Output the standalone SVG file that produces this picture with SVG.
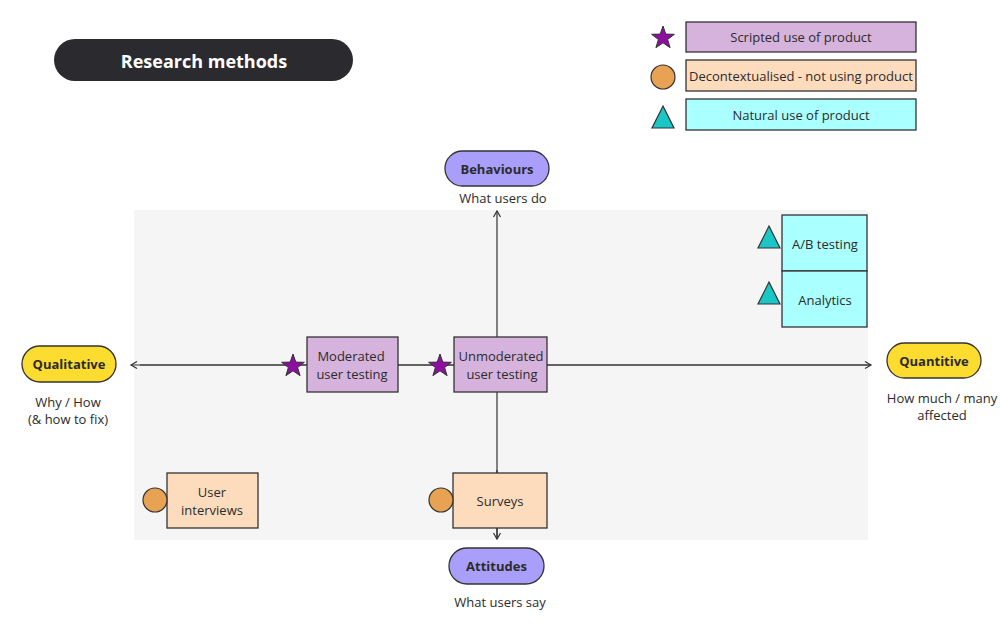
<svg xmlns="http://www.w3.org/2000/svg" width="1000" height="643" viewBox="0 0 1000 643">
<style>
text{font-family:"Open Sans","Noto Sans","Liberation Sans",sans-serif;fill:#2b2b2b;font-size:13px;text-anchor:middle;dominant-baseline:central}
.b{font-weight:bold}
.box{stroke:#333;stroke-width:1.3}
.pur{fill:#d5b3dc}
.org{fill:#fddcbd}
.cyn{fill:#aaffff}
.pill{stroke:#333;stroke-width:1.3}
.ax{stroke:#333;stroke-width:1.2;fill:none}
.star{fill:#8c0f9f;stroke:#333;stroke-width:1}
.circ{fill:#e8a253;stroke:#333;stroke-width:1.2}
.tri{fill:#1bc6c6;stroke:#333;stroke-width:1.2}
</style>
<defs>
<path id="star" d="M0,-12 L2.8,-3.9 L11.4,-3.7 L4.6,1.5 L7.1,9.7 L0,4.8 L-7.1,9.7 L-4.6,1.5 L-11.4,-3.7 L-2.8,-3.9 Z"/>
<path id="tri" d="M0,-12 L11,10 L-11,10 Z"/>
<marker id="arr" markerWidth="10" markerHeight="10" refX="8" refY="5" orient="auto" markerUnits="userSpaceOnUse">
<path d="M2,1.5 L8,5 L2,8.5" fill="none" stroke="#333" stroke-width="1.2"/>
</marker>
</defs>
<rect x="0" y="0" width="1000" height="643" fill="#ffffff"/>
<rect x="134" y="210" width="734" height="330" fill="#f5f5f5"/>

<g id="title">
<rect x="54" y="39" width="299" height="42" rx="21" fill="#2b2b2f"/>
<text x="204" y="61" class="b" style="fill:#ffffff;font-size:18px">Research methods</text>
</g>

<g id="legend-scripted">
<use href="#star" x="663" y="38" class="star"/>
<rect x="686" y="22" width="230" height="30" class="box pur"/>
<text x="801" y="37">Scripted use of product</text>
</g>
<g id="legend-decontextualised">
<circle cx="663" cy="77" r="12" class="circ"/>
<rect x="686" y="60" width="230" height="31" class="box org"/>
<text x="801" y="75.5">Decontextualised - not using product</text>
</g>
<g id="legend-natural">
<use href="#tri" x="663" y="118" class="tri"/>
<rect x="686" y="99" width="230" height="31" class="box cyn"/>
<text x="801" y="114.5">Natural use of product</text>
</g>

<g id="connectors">
<line x1="497" y1="538" x2="497" y2="211" class="ax" marker-end="url(#arr)"/>
<line x1="497" y1="470" x2="497" y2="539" class="ax" marker-end="url(#arr)"/>
<line x1="870" y1="365" x2="131" y2="365" class="ax" marker-end="url(#arr)"/>
<line x1="140" y1="365" x2="871" y2="365" class="ax" marker-end="url(#arr)"/>
</g>

<g id="behaviours">
<rect x="445" y="151" width="104" height="35" rx="17.5" fill="#a99ffa" class="pill"/>
<text x="497" y="168.5" class="b">Behaviours</text>
<text x="503" y="198">What users do</text>
</g>
<g id="attitudes">
<rect x="449" y="548" width="95" height="36" rx="18" fill="#a99ffa" class="pill"/>
<text x="496.5" y="566" class="b">Attitudes</text>
<text x="500" y="602">What users say</text>
</g>
<g id="qualitative">
<rect x="22" y="346" width="94" height="36" rx="18" fill="#fddc30" class="pill"/>
<text x="69" y="364" class="b">Qualitative</text>
<text x="68" y="402">Why / How</text>
<text x="68" y="419">(&amp; how to fix)</text>
</g>
<g id="quantitive">
<rect x="887" y="343" width="94" height="35" rx="17.5" fill="#fddc30" class="pill"/>
<text x="934" y="360.5" class="b">Quantitive</text>
<text x="942" y="398">How much / many</text>
<text x="942" y="415">affected</text>
</g>

<g id="moderated">
<rect x="307" y="337" width="91" height="55" class="box pur"/>
<text x="351" y="356">Moderated</text>
<text x="352" y="374">user testing</text>
<use href="#star" x="293" y="366" class="star"/>
</g>
<g id="unmoderated">
<rect x="454" y="337" width="93" height="55" class="box pur"/>
<text x="501" y="356">Unmoderated</text>
<text x="502" y="374">user testing</text>
<use href="#star" x="440" y="366" class="star"/>
</g>
<g id="ab-testing">
<rect x="782" y="215" width="85" height="56" class="box cyn"/>
<text x="825" y="244">A/B testing</text>
<use href="#tri" x="769" y="238" class="tri"/>
</g>
<g id="analytics">
<rect x="782" y="271" width="85" height="56" class="box cyn"/>
<text x="825" y="300">Analytics</text>
<use href="#tri" x="769" y="294" class="tri"/>
</g>
<g id="user-interviews">
<rect x="167" y="473" width="91" height="55" class="box org"/>
<text x="212" y="492">User</text>
<text x="212" y="510">interviews</text>
<circle cx="155" cy="500" r="12" class="circ"/>
</g>
<g id="surveys">
<rect x="453" y="473" width="94" height="55" class="box org"/>
<text x="500" y="501">Surveys</text>
<circle cx="441" cy="500" r="12" class="circ"/>
</g>
</svg>
